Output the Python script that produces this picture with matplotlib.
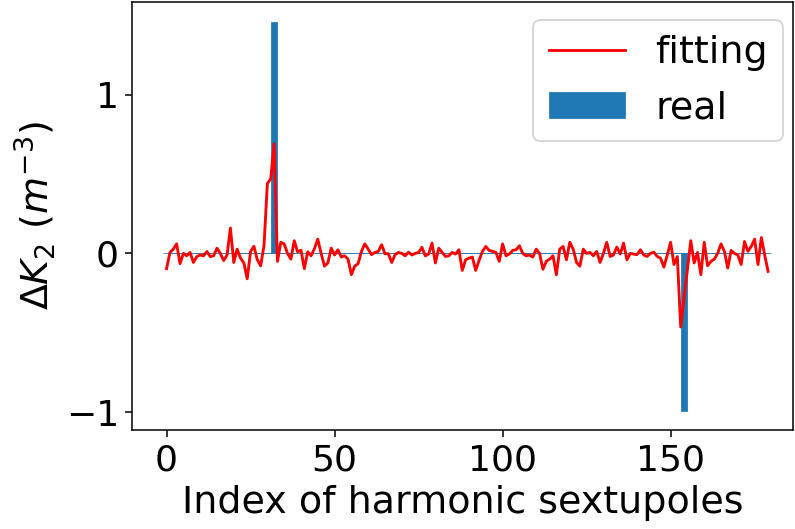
import numpy as np
import matplotlib
matplotlib.use('Agg')
import matplotlib.pyplot as plt

# fitted sextupole errors, one value per harmonic sextupole
fitting = [
    -0.096, 0.006, 0.027, 0.06, -0.065, 0.0, -0.015, 0.006, -0.057, -0.02,
    -0.01, -0.015, 0.012, -0.02, -0.015, 0.033, 0.0, -0.045, -0.01, 0.16,
    -0.057, 0.027, -0.03, -0.06, -0.16, 0.012, 0.045, -0.04, -0.078, 0.05,
    0.44, 0.47, 0.69, -0.05, 0.07, 0.06, 0.0, -0.036, 0.08, 0.01,
    0.02, -0.096, 0.01, -0.015, 0.03, 0.09, 0.0, -0.08, -0.06, 0.033,
    -0.01, 0.023, -0.023, -0.015, -0.036, -0.134, -0.08, -0.065, 0.013, 0.06,
    0.027, -0.008, 0.006, 0.013, 0.055, -0.002, -0.002, -0.057, -0.008, 0.006,
    0.0, -0.015, 0.008, -0.01, 0.0, 0.006, 0.038, -0.015, -0.004, 0.065,
    -0.06, 0.033, 0.006, -0.019, -0.015, 0.006, -0.004, 0.023, -0.107, -0.04,
    -0.03, -0.023, -0.107, -0.044, 0.013, 0.044, 0.019, 0.013, 0.006, -0.05,
    0.06, -0.015, -0.004, 0.019, 0.023, 0.048, 0.0, -0.015, -0.01, -0.023,
    0.027, 0.0, -0.1, -0.05, -0.036, -0.015, -0.134, 0.027, 0.044, -0.04,
    0.07, 0.027, -0.057, -0.08, 0.027, 0.0, 0.006, -0.015, 0.013, -0.057,
    0.0, 0.07, -0.019, -0.01, 0.04, -0.004, 0.065, -0.04, 0.0, -0.004,
    -0.008, 0.023, -0.01, -0.019, 0.0, 0.008, -0.019, -0.03, -0.086, -0.01,
    0.07, -0.07, -0.02, -0.463, -0.28, -0.1, 0.08, -0.06, 0.006, -0.134,
    0.07, -0.078, -0.05, -0.036, 0.0, 0.06, 0.013, -0.092, 0.019, 0.0,
    -0.01, -0.07, 0.075, 0.013, 0.044, 0.09, -0.07, 0.1, -0.01, -0.113,
]

# real errors: only two sextupoles are off
n_sext = len(fitting)
real_index = [32, 154]
real_value = [1.46, -0.99]

index = np.arange(n_sext)
real = np.zeros(n_sext)
real[real_index] = real_value

dpi = 137
fig = plt.figure(figsize=(795 / dpi, 529 / dpi), dpi=dpi)
ax = fig.add_axes([0.1664, 0.187, 0.831, 0.809])

ax.plot(index, fitting, color='red', linewidth=1.5, label='fitting', zorder=3)
# thin edge so the zero-height bars show as the blue baseline
ax.bar(index, real, width=2, color='tab:blue', edgecolor='tab:blue',
       linewidth=0.4, label='real')

ax.set_xlim(-10.2, 186.4)
ax.set_xticks([0, 50, 100, 150])
ax.set_yticks([-1, 0, 1])
ax.tick_params(labelsize=19)
ax.set_xlabel('Index of harmonic sextupoles', fontsize=20)
ax.set_ylabel(r'$\Delta K_2\ (m^{-3})$', fontsize=20)
ax.legend(fontsize=20, loc='upper right', borderaxespad=0,
          bbox_to_anchor=(783 / 795, 1 - 20 / 529), bbox_transform=fig.transFigure)

fig.savefig('out.png', dpi=dpi)
